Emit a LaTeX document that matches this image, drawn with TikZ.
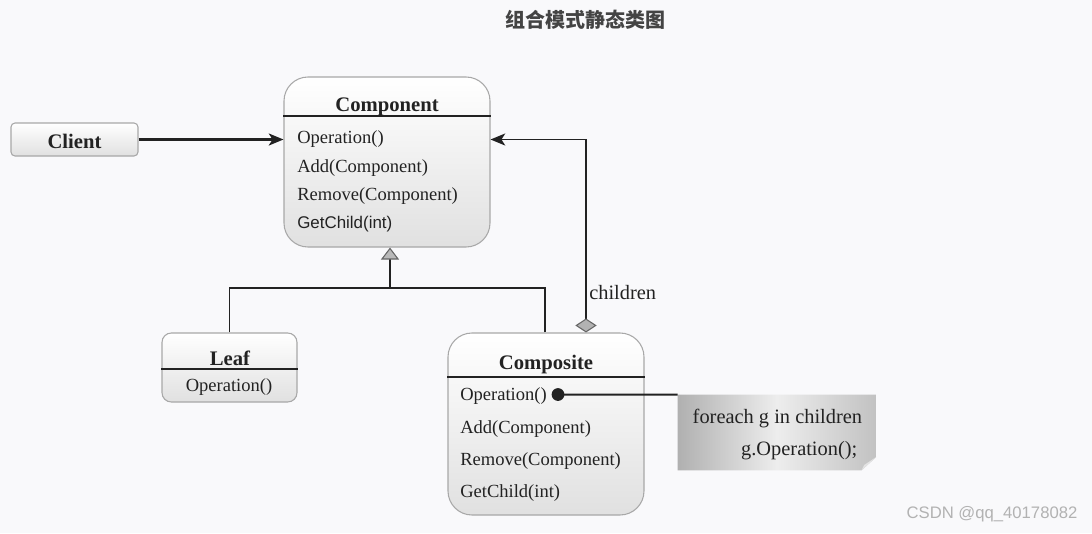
\documentclass[tikz,border=0pt]{standalone}
\usepackage{fontspec}
\setmainfont{Liberation Serif}
\newfontfamily\sansf{Liberation Sans}
\newfontfamily\cjk{Noto Sans CJK SC}
\usetikzlibrary{arrows.meta,shapes.geometric}
\definecolor{ink}{HTML}{222222}
\definecolor{edge}{HTML}{A8A8A8}
\definecolor{bgc}{RGB}{249,249,251}
\colorlet{tipedge}{gray!80!black}
\tikzset{
  cls/.style={draw=edge, line width=0.8pt, top color=white, bottom color=gray!24, inner sep=0pt},
  ttl/.style={font=\fontsize{15.5}{18}\selectfont\bfseries, text=ink},
  meth/.style={font=\fontsize{13.9}{16}\selectfont, text=ink, anchor=west, inner sep=0pt},
  sline/.style={draw=ink, line width=1.2pt},
  conn/.style={draw=ink, line width=1.4pt},
  headtip/.style={-{Stealth[length=11pt,width=9pt,inset=2.8pt]}},
}
\begin{document}
\begin{tikzpicture}[x=0.75pt,y=-0.75pt]
\fill[bgc] (0,0) rectangle (1092,533);
\useasboundingbox (0,0) rectangle (1092,533);

% title
\node[font=\cjk\bfseries\fontsize{15}{18}\selectfont, text={rgb,255:red,68;green,68;blue,68}] (title) at (585,20) {组合模式静态类图};

% Client
\node[cls, rounded corners=3pt, minimum width=95.25pt, minimum height=24.75pt] (client) at (74.5,139.5) {};
\node[ttl] (clientt) at (74.5,141) {Client};

% Component
\node[cls, rounded corners=18pt, minimum width=154.5pt, minimum height=127.5pt] (comp) at (387,162) {};
\draw[sline] (comp.west |- 0,116) -- (comp.east |- 0,116);
\node[ttl] (compt) at (387,106.5) {Component};
\node[meth] (c1) at (297,139) {Operation()};
\node[meth] (c2) at (297,168) {Add(Component)};
\node[meth] (c3) at (297,196) {Remove(Component)};
\node[meth, font=\sansf\fontsize{12.7}{15}\selectfont] (c4) at (297,224.5) {GetChild(int)};

% Leaf
\node[cls, rounded corners=7pt, minimum width=101.25pt, minimum height=51.75pt] (leaf) at (229.5,367.5) {};
\draw[sline] (leaf.west |- 0,369) -- (leaf.east |- 0,369);
\node[ttl] (leaft) at (230,358) {Leaf};
\node[meth, anchor=center] (l1) at (229,387) {Operation()};

% Composite
\node[cls, rounded corners=18pt, minimum width=147pt, minimum height=136.5pt] (compo) at (546,424) {};
\draw[sline] (compo.west |- 0,377) -- (compo.east |- 0,377);
\node[ttl] (compot) at (546,364.5) {Composite};
\node[meth] (p1) at (460,396) {Operation()};
\node[meth] (p2) at (460,429) {Add(Component)};
\node[meth] (p3) at (460,461) {Remove(Component)};
\node[meth] (p4) at (460,493) {GetChild(int)};

% Note
\node[minimum width=148.5pt, minimum height=56.25pt, inner sep=0pt] (note) at (777,432.5) {};
\shade[left color=gray!62, right color=gray!48, middle color=gray!14]
  (note.north west) -- (note.north east) -- ([yshift=10pt]note.south east)
  -- ([xshift=-11pt]note.south east) -- (note.south west) -- cycle;
\fill[gray!22] ([yshift=10pt]note.south east) -- ([xshift=-11pt]note.south east)
  -- ([xshift=-9pt,yshift=4pt]note.south east) -- cycle;
\node[font=\fontsize{15.3}{18}\selectfont, text=ink, anchor=west] (n1) at (688,418.5) {foreach g in children};
\node[font=\fontsize{15.3}{18}\selectfont, text=ink, anchor=east] (n2) at (862,450.5) {g.Operation();};

% Client -> Component
\draw[conn, line width=1.7pt, headtip] (client.east) -- (client.east -| comp.west);

% generalization
\coordinate (junc) at (390,288);
\draw[conn, line width=1.3pt] (leaf.north) |- (junc);
\draw[conn, line width=1.3pt] (compo.north west -| 545,0) |- (junc);
\draw[conn, line width=1.3pt, -{Triangle[length=9pt,width=13.5pt,fill=gray!55,color=tipedge,line width=0.8pt]}] (junc) -- (junc |- comp.south);

% composition
\coordinate (dtop) at ([xshift=30pt]compo.north);
\draw[conn, line width=1.3pt, {Diamond[length=10.5pt,width=16pt,fill=gray!60,color=tipedge,line width=0.8pt]}-{Stealth[length=11pt,width=9pt,inset=2.8pt,color=ink]}] (dtop) |- (client.east -| comp.east);
\node[font=\fontsize{15.3}{18}\selectfont, text=ink, anchor=west, inner sep=0pt] (ch) at (589,293) {children};

% note link
\coordinate (opdot) at (558,394.5);
\fill[ink] (opdot) circle (4.8pt);
\draw[conn, line width=1.5pt] (opdot) -- (note.north west);

% watermark
\node[font=\sansf\fontsize{12.5}{15}\selectfont, text=gray!60] (wm) at (992,514) {CSDN @qq\_40178082};
\end{tikzpicture}
\end{document}
